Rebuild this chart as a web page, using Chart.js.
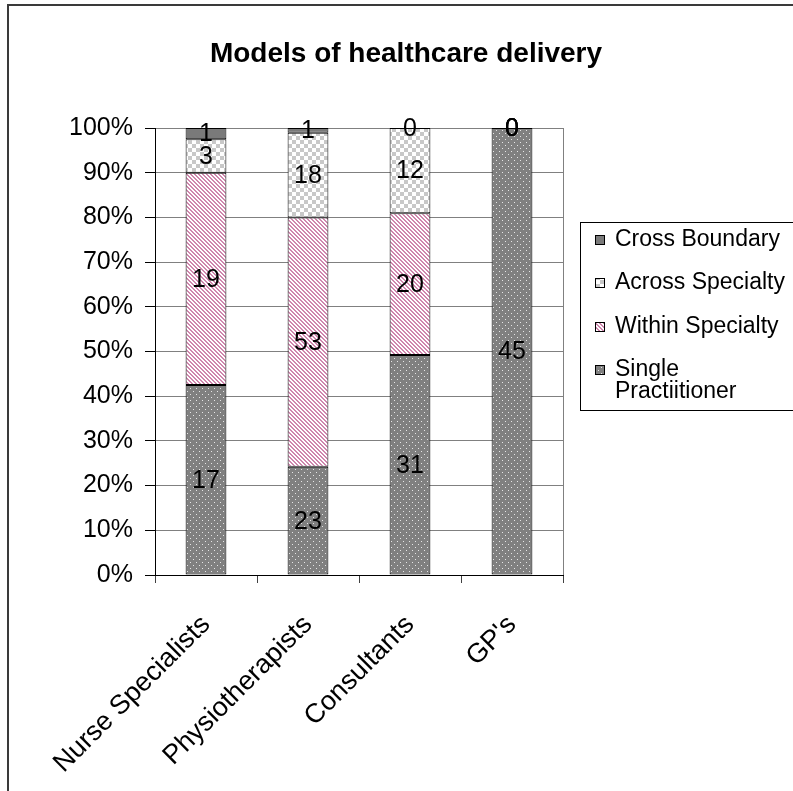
<!DOCTYPE html>
<html>
<head>
<meta charset="utf-8">
<script src="https://cdn.jsdelivr.net/npm/chart.js@4.4.0/dist/chart.umd.min.js"></script>
<style>
  body { margin: 0; background: #fff; }
  canvas { display: block; }
</style>
</head>
<body>
<canvas id="graph1" width="793" height="791"></canvas>
<script>
// data
const categories = ['Nurse Specialists', 'Physiotherapists', 'Consultants', "GP's"];
const singlePractitioner = [17, 23, 31, 45];
const withinSpecialty = [19, 53, 20, 0];
const acrossSpecialty = [3, 18, 12, 0];
const crossBoundary = [1, 1, 0, 0];
const seriesNames = ['Single Practiitioner', 'Within Specialty', 'Across Specialty', 'Cross Boundary'];
const legendLines = [['Cross Boundary'], ['Across Specialty'], ['Within Specialty'], ['Single', 'Practiitioner']];

const FONT = '"Liberation Sans", Arial, sans-serif';
const allSeries = [singlePractitioner, withinSpecialty, acrossSpecialty, crossBoundary];
const totals = categories.map((c, i) => allSeries.reduce((s, arr) => s + arr[i], 0));
const toPct = arr => arr.map((v, i) => v / totals[i] * 100);

function makePattern(size, draw) {
    const c = document.createElement('canvas');
    c.width = size; c.height = size;
    const g = c.getContext('2d');
    draw(g);
    return document.getElementById('graph1').getContext('2d').createPattern(c, 'repeat');
}

// excel style fills
const dotsFill = makePattern(6, g => {
    g.fillStyle = '#808080'; g.fillRect(0, 0, 6, 6);
    g.fillStyle = '#e6e6e6';
    g.fillRect(1, 1, 1, 1); g.fillRect(4, 4, 1, 1);
});
const stripeFill = makePattern(4, g => {
    g.fillStyle = '#ffffff'; g.fillRect(0, 0, 4, 4);
    g.fillStyle = '#cf86ad';
    for (let i = 0; i < 4; i++) { g.fillRect(i, i, 1, 1); g.fillRect((i + 1) % 4, i, 1, 1); }
});
const checkFill = makePattern(8, g => {
    g.fillStyle = '#ffffff'; g.fillRect(0, 0, 8, 8);
    g.fillStyle = '#c8c8c8';
    g.fillRect(0, 0, 4, 4); g.fillRect(4, 4, 4, 4);
});
const solidFill = '#7a7a7a';
const fills = [dotsFill, stripeFill, checkFill, solidFill];

const titlePlugin = {
    id: 'frameTitle',
    beforeDraw(chart) {
        const c = chart.ctx;
        c.save();
        c.strokeStyle = '#3a3a3a';
        c.lineWidth = 2;
        c.strokeRect(8, 5, 900, 900);
        c.fillStyle = '#000';
        c.font = 'bold 28px ' + FONT;
        c.textAlign = 'center';
        c.textBaseline = 'middle';
        c.fillText('Models of healthcare delivery', 406, 54);
        c.restore();
    }
};

const labelsPlugin = {
    id: 'segmentLabels',
    afterDatasetsDraw(chart) {
        const c = chart.ctx;
        c.save();
        c.fillStyle = '#000';
        c.font = '25px ' + FONT;
        c.textAlign = 'center';
        c.textBaseline = 'middle';
        chart.data.datasets.forEach((ds, di) => {
            chart.getDatasetMeta(di).data.forEach((bar, i) => {
                const p = bar.getProps(['x', 'y', 'base'], true);
                c.fillText(String(allSeries[di][i]), p.x, (p.y + p.base) / 2 + 1);
            });
        });
        c.restore();
    }
};

const legendPlugin = {
    id: 'boxLegend',
    afterDraw(chart) {
        const c = chart.ctx;
        c.save();
        c.strokeStyle = '#000';
        c.lineWidth = 1;
        c.strokeRect(580.5, 222.5, 400, 188);
        const rows = [240, 283, 327, 370];
        const order = [3, 2, 1, 0];
        c.font = '23px ' + FONT;
        c.textBaseline = 'middle';
        c.textAlign = 'left';
        order.forEach((si, k) => {
            const y = rows[k];
            c.fillStyle = fills[si];
            c.fillRect(595, y - 5, 10, 10);
            c.strokeStyle = '#000';
            c.strokeRect(595.5, y - 4.5, 9, 9);
            c.fillStyle = '#000';
            legendLines[k].forEach((t, j) => c.fillText(t, 615, y + j * 22));
        });
        c.restore();
    }
};

const ctx = document.querySelector('#graph1').getContext('2d');

const chart = new Chart(ctx, {
    type: 'bar',
    data: {
        labels: categories,
        datasets: allSeries.map((arr, i) => ({
            label: seriesNames[i],
            data: toPct(arr),
            backgroundColor: fills[i],
            borderColor: '#000',
            borderWidth: 1,
            borderSkipped: false,
            categoryPercentage: 1,
            barPercentage: 0.4
        }))
    },
    plugins: [titlePlugin, labelsPlugin, legendPlugin],
    options: {
        responsive: false,
        animation: false,
        layout: { padding: { top: 128, right: 230, left: 0, bottom: 0 } },
        plugins: {
            legend: { display: false },
            title: { display: false },
            tooltip: { enabled: false }
        },
        scales: {
            x: {
                stacked: true,
                afterFit(scale) { scale.height = 216; },
                grid: {
                    offset: true,
                    color: c => c.type === 'scale' ? '#808080' : 'rgba(0,0,0,0)',
                    tickColor: '#404040',
                    tickLength: 8
                },
                border: { color: '#000', width: 1 },
                ticks: {
                    minRotation: 45,
                    maxRotation: 45,
                    color: '#000',
                    padding: 26,
                    font: { family: FONT, size: 27 }
                }
            },
            y: {
                stacked: true,
                min: 0,
                max: 100,
                afterFit(scale) { scale.width = 155; },
                grid: { color: '#808080', tickColor: '#000', tickLength: 10 },
                border: { color: '#000', width: 1 },
                ticks: {
                    stepSize: 10,
                    color: '#000',
                    padding: 12,
                    font: { family: FONT, size: 25 },
                    callback: v => v + '%'
                }
            }
        }
    }
});
</script>
</body>
</html>
